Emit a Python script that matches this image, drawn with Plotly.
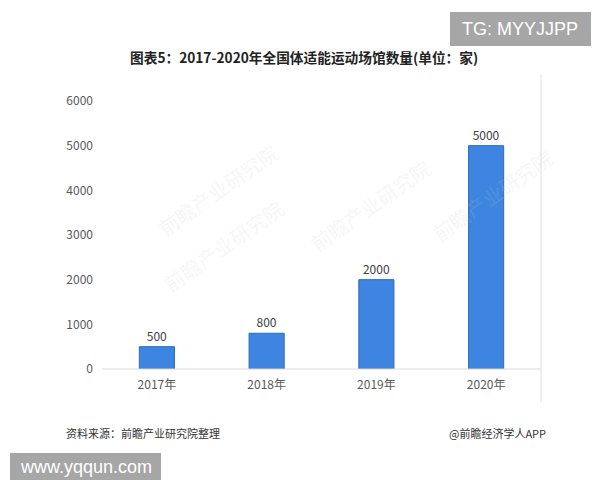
import plotly.graph_objects as go

categories = ["2017年", "2018年", "2019年", "2020年"]
values = [500, 800, 2000, 5000]
value_labels = ["500", "800", "2000", "5000"]
y_ticks = [0, 1000, 2000, 3000, 4000, 5000, 6000]

title_text = "图表5：2017-2020年全国体适能运动场馆数量(单位：家)"
source_text = "资料来源：前瞻产业研究院整理"
credit_text = "@前瞻经济学人APP"

W, H = 600, 480
L, R, T, B = 102, 59, 101, 111
PW, PH = W - L - R, H - T - B

def px(x):
    return (x - L) / PW

def py(y):
    return (H - B - y) / PH

CJK = "Noto Sans CJK SC"

fig = go.Figure()
fig.add_trace(go.Bar(
    x=categories, y=values,
    marker=dict(color="#3d85e0", line=dict(color="#2f6bb8", width=1)),
    width=0.32,
    text=value_labels, textposition="outside",
    textfont=dict(family=CJK, size=12, color="#404040"),
    cliponaxis=False,
))

shapes = [
    dict(type="line", xref="paper", yref="paper", x0=0, x1=1, y0=0, y1=0,
         line=dict(color="#d9d9d9", width=1)),
    dict(type="line", xref="paper", yref="paper", x0=px(541), x1=px(541), y0=py(75), y1=py(403),
         line=dict(color="#ebebeb", width=1.5)),
    dict(type="rect", xref="paper", yref="paper", x0=px(450), x1=px(591), y0=py(12), y1=py(46),
         fillcolor="#a6a6a6", line=dict(width=0), layer="above"),
    dict(type="rect", xref="paper", yref="paper", x0=px(10), x1=px(161), y0=py(453), y1=py(490),
         fillcolor="#a6a6a6", line=dict(width=0), layer="above"),
]

annotations = [
    dict(text="<b>" + title_text + "</b>", xref="paper", yref="paper", x=px(304), y=py(57),
         showarrow=False, xanchor="center", yanchor="middle",
         font=dict(family=CJK, size=13.7, color="#222222")),
    dict(text=source_text, xref="paper", yref="paper", x=px(64), y=py(433),
         showarrow=False, xanchor="left", yanchor="middle",
         font=dict(family=CJK, size=11, color="#333333")),
    dict(text=credit_text, xref="paper", yref="paper", x=px(548), y=py(433),
         showarrow=False, xanchor="right", yanchor="middle",
         font=dict(family=CJK, size=11, color="#333333")),
    dict(text="TG: MYYJJPP", xref="paper", yref="paper", x=px(520), y=py(29),
         showarrow=False, xanchor="center", yanchor="middle",
         font=dict(family="Liberation Sans", size=18, color="#ffffff")),
    dict(text="www.yqqun.com", xref="paper", yref="paper", x=px(86), y=py(467),
         showarrow=False, xanchor="center", yanchor="middle",
         font=dict(family="Liberation Sans", size=18, color="#ffffff")),
]

for wx, wy in [(150, 135), (155, 300), (370, 205), (560, 195)]:
    annotations.append(dict(text="前瞻产业研究院", xref="paper", yref="paper", x=px(wx), y=py(wy),
                            showarrow=False, textangle=-35,
                            font=dict(family=CJK, size=20, color="rgba(200,200,200,0.18)")))

fig.update_layout(
    width=W, height=H,
    margin=dict(l=L, r=R, t=T, b=B),
    paper_bgcolor="#ffffff", plot_bgcolor="#ffffff",
    showlegend=False,
    bargap=0.68,
    xaxis=dict(showgrid=False, showline=False, zeroline=False, ticks="",
               ticklabelstandoff=7,
               tickfont=dict(family=CJK, size=12, color="#595959")),
    yaxis=dict(range=[0, 6000], tickvals=y_ticks, showgrid=False, zeroline=False,
               showline=False, ticks="", ticklen=0, ticklabelstandoff=8,
               tickfont=dict(family=CJK, size=12, color="#595959")),
    shapes=shapes,
    annotations=annotations,
)

fig.write_html("out.html", config={"displayModeBar": False},
               post_script="document.body.style.margin='0px';document.body.style.overflow='hidden';")
